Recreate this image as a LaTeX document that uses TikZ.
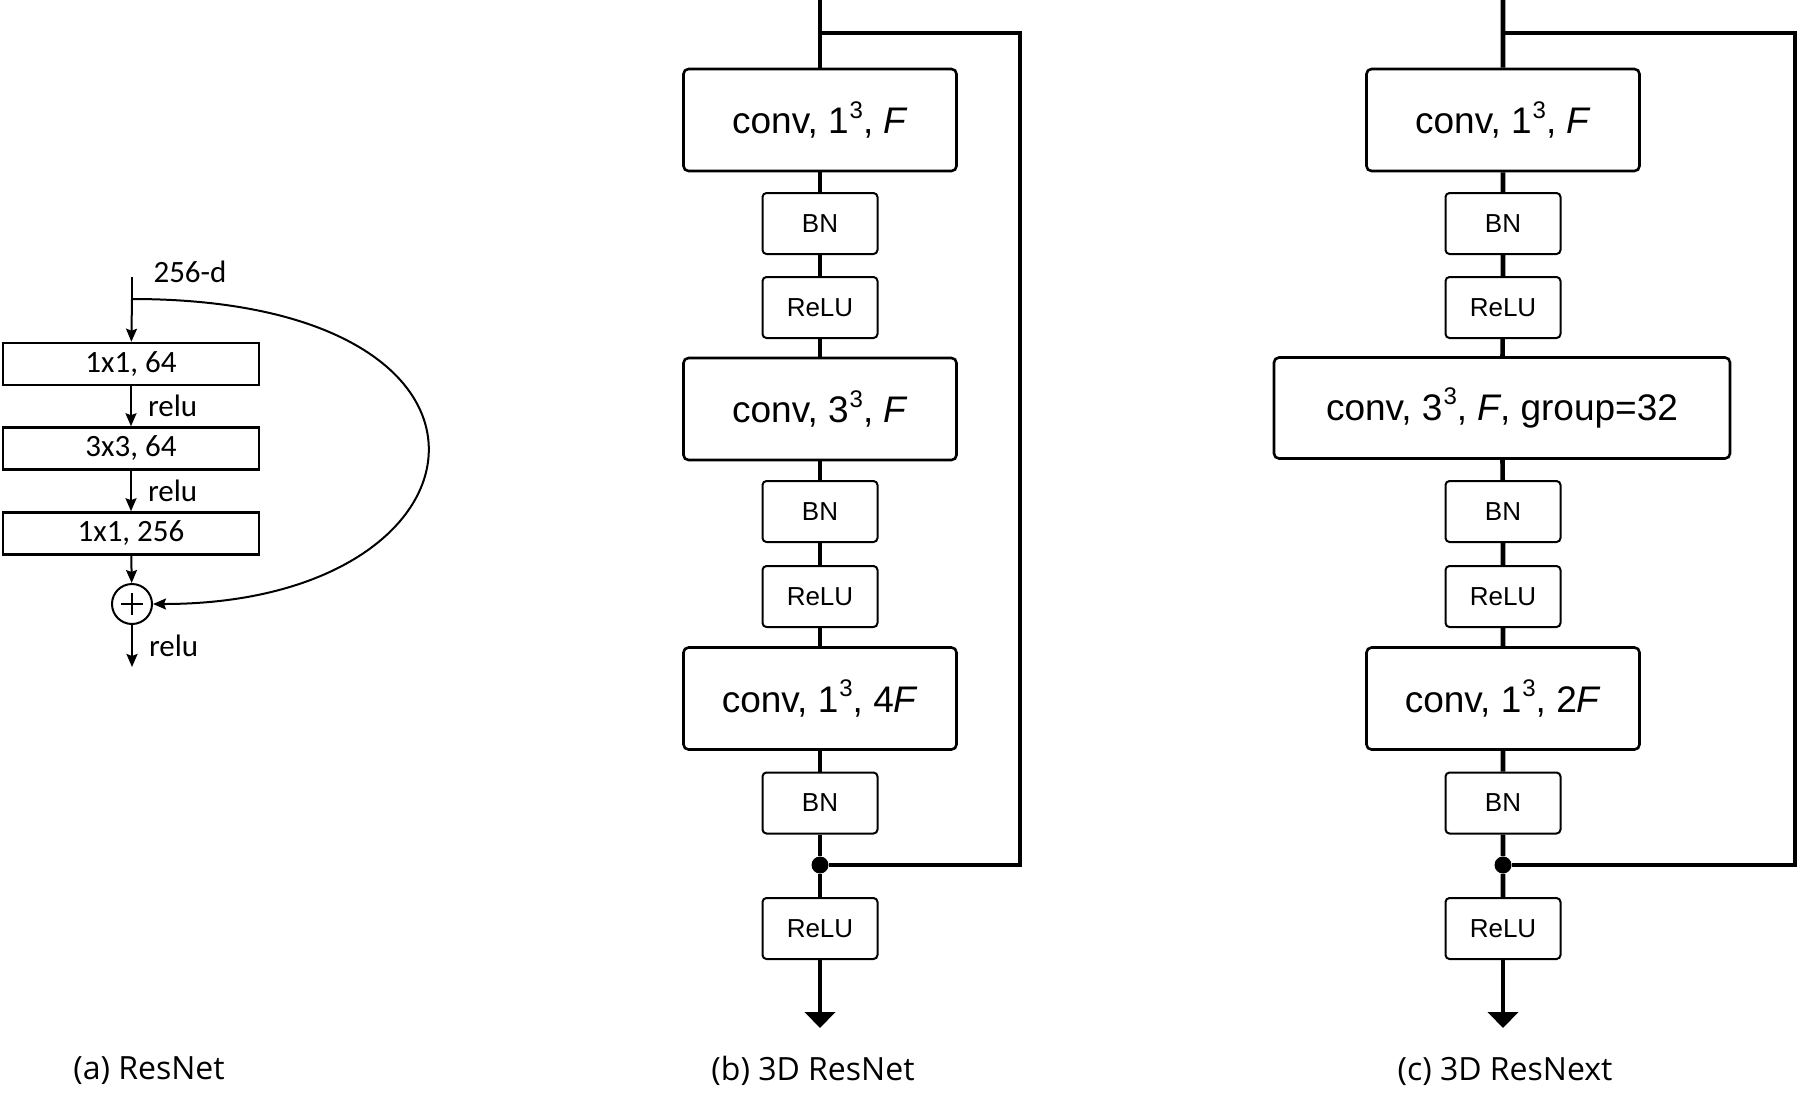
\documentclass[tikz,border=0pt]{standalone}
\usepackage{fontspec}
\setmainfont{Liberation Sans}
\newfontfamily\boxfont{Liberation Sans}
\newfontfamily\smallfont{Carlito}
\newfontfamily\capfont{Open Sans}
\usetikzlibrary{arrows.meta}
\newcommand{\cube}[1]{#1\kern0.5pt\raisebox{0.42em}{\fontsize{12}{12}\selectfont 3}}

\begin{document}
\begin{tikzpicture}[x=0.5pt, y=-0.5pt, >={Stealth[length=6.5pt, width=5.5pt, inset=1pt]},
  flow/.style={line width=2.3pt},
  convbox/.style={draw, line width=1.3pt, rounded corners=2.5pt, fill=white, inner sep=0pt,
    minimum width=136.5pt, minimum height=51pt, font=\boxfont\fontsize{18.5}{22}\selectfont},
  widebox/.style={convbox, minimum width=228pt, minimum height=50.5pt},
  layerbox/.style={draw, line width=1pt, rounded corners=2pt, fill=white, inner sep=0pt,
    minimum width=57.5pt, minimum height=30.5pt, font=\boxfont\fontsize{13}{15}\selectfont},
  sumdot/.style={circle, fill, inner sep=0pt, minimum size=8.5pt},
  resbox/.style={draw, line width=1.3pt, inner sep=0pt, minimum width=128pt, minimum height=21pt,
    font=\smallfont\fontsize{15.5}{18}\selectfont},
  relu/.style={right, inner sep=0pt, xshift=8pt, font=\smallfont\fontsize{15.5}{18}\selectfont},
  caption/.style={font=\capfont\fontsize{16}{19}\selectfont}]
  \useasboundingbox (0,0) rectangle (1800,1099);

  % (a) ResNet
  \coordinate (a-in) at (132,277);
  \coordinate (a-split) at (132,299);
  \node[font=\smallfont\fontsize{15.5}{18}\selectfont] (a-dim) at (190,272) {256-d};
  \node[resbox] (a-c1) at (131,364) {1x1, 64};
  \node[resbox] (a-c2) at (131,448.5) {3x3, 64};
  \node[resbox] (a-c3) at (131,533.5) {1x1, 256};
  \node[draw, circle, line width=1pt, minimum size=20pt, inner sep=0pt] (a-sum) at (132,604) {};
  \coordinate (a-out) at (132,667);
  \draw[line width=1pt] ([xshift=-5.3pt]a-sum.center) -- ([xshift=5.3pt]a-sum.center);
  \draw[line width=1pt] ([yshift=-5.3pt]a-sum.center) -- ([yshift=5.3pt]a-sum.center);
  \draw[line width=1pt] (a-in) -- (a-split);
  \draw[line width=1pt, ->] (a-split) -- (a-c1);
  \draw[line width=1pt, ->] (a-c1) -- node[relu] {relu} (a-c2);
  \draw[line width=1pt, ->] (a-c2) -- node[relu] {relu} (a-c3);
  \draw[line width=1pt, ->] (a-c3) -- (a-sum);
  \draw[line width=1pt, ->] (a-sum) -- node[relu] {relu} (a-out);
  \draw[line width=1pt, ->] (a-split) .. controls (545,299) and (500,604) .. (a-sum);
  \node[caption] (a-cap) at (149,1071) {(a) ResNet};

  % (b) 3D ResNet
  \coordinate (b-in) at (820,0);
  \coordinate (b-split) at (820,33);
  \coordinate (b-tr) at (1020,33);
  \coordinate (b-br) at (1020,865);
  \node[convbox] (b-conv1) at (820,120) {conv, \cube{1}, \textit{F}};
  \node[layerbox] (b-bn1) at (820,223.5) {BN};
  \node[layerbox] (b-relu1) at (820,307.5) {ReLU};
  \node[convbox] (b-conv2) at (820,409) {conv, \cube{3}, \textit{F}};
  \node[layerbox] (b-bn2) at (820,511.5) {BN};
  \node[layerbox] (b-relu2) at (820,596.5) {ReLU};
  \node[convbox] (b-conv3) at (820,698.5) {conv, \cube{1}, 4\textit{F}};
  \node[layerbox] (b-bn3) at (820,803) {BN};
  \node[sumdot] (b-sum) at (820,865) {};
  \node[layerbox] (b-relu3) at (820,928.5) {ReLU};
  \coordinate (b-out) at (820,1028);
  \draw[flow] (b-in) -- (b-conv1) -- (b-bn1) -- (b-relu1) -- (b-conv2) -- (b-bn2)
    -- (b-relu2) -- (b-conv3) -- (b-bn3) -- (b-sum) -- (b-relu3);
  \draw[flow, -{Triangle[width=15pt, length=8pt]}] (b-relu3) -- (b-out);
  \draw[flow] (b-split) -- (b-tr) -- (b-br) -- (b-sum);
  \node[caption] (b-cap) at (813,1071) {(b) 3D ResNet};

  % (c) 3D ResNext
  \coordinate (c-in) at (1503,0);
  \coordinate (c-split) at (1503,33);
  \coordinate (c-tr) at (1795,33);
  \coordinate (c-br) at (1795,865);
  \node[convbox] (c-conv1) at (1503,120) {conv, \cube{1}, \textit{F}};
  \node[layerbox] (c-bn1) at (1503,223.5) {BN};
  \node[layerbox] (c-relu1) at (1503,307.5) {ReLU};
  \node[widebox] (c-conv2) at (1502,408) {conv, \cube{3}, \textit{F}, group=32};
  \node[layerbox] (c-bn2) at (1503,511.5) {BN};
  \node[layerbox] (c-relu2) at (1503,596.5) {ReLU};
  \node[convbox] (c-conv3) at (1503,698.5) {conv, \cube{1}, 2\textit{F}};
  \node[layerbox] (c-bn3) at (1503,803) {BN};
  \node[sumdot] (c-sum) at (1503,865) {};
  \node[layerbox] (c-relu3) at (1503,928.5) {ReLU};
  \coordinate (c-out) at (1503,1028);
  \draw[flow] (c-in) -- (c-conv1) -- (c-bn1) -- (c-relu1) -- (c-conv2) -- (c-bn2)
    -- (c-relu2) -- (c-conv3) -- (c-bn3) -- (c-sum) -- (c-relu3);
  \draw[flow, -{Triangle[width=15pt, length=8pt]}] (c-relu3) -- (c-out);
  \draw[flow] (c-split) -- (c-tr) -- (c-br) -- (c-sum);
  \node[caption] (c-cap) at (1505,1071) {(c) 3D ResNext};
\end{tikzpicture}
\end{document}
